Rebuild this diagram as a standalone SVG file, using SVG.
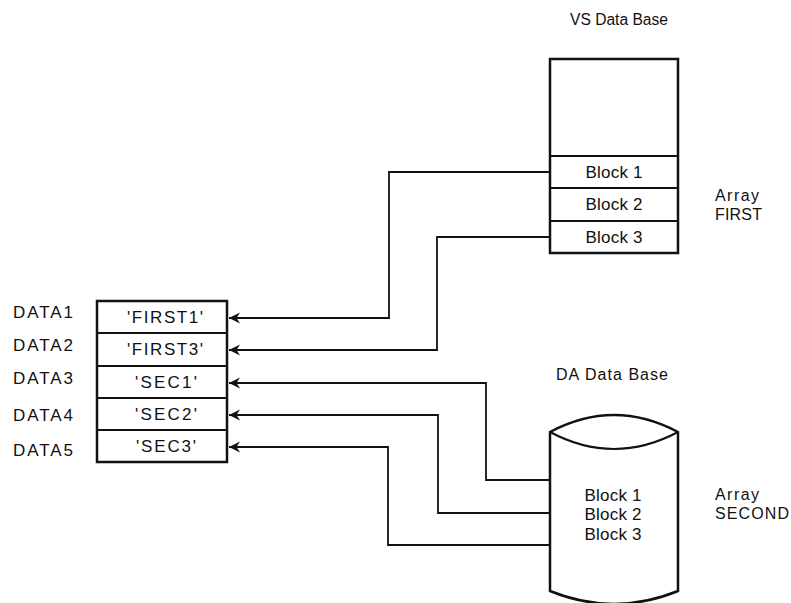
<svg xmlns="http://www.w3.org/2000/svg" width="791" height="603" viewBox="0 0 791 603">
<style>
  text { font-family: "Liberation Sans", Arial, sans-serif; font-size: 17px; fill: #111; }
  .hdr { font-size: 16px; }
  .lbl { font-size: 16px; }
  .mid { text-anchor: middle; }
  .box { fill: #fff; stroke: #111; stroke-width: 2.5; }
  .div { stroke: #111; stroke-width: 2; fill: none; }
  .conn { fill: none; stroke: #111; stroke-width: 1.8; }
</style>
<defs>
  <marker id="arr" viewBox="-12 -7 13 14" markerWidth="13" markerHeight="14" refX="0" refY="0" orient="auto" markerUnits="userSpaceOnUse">
    <path d="M0,0 L-11,-5.5 L-7.5,0 L-11,5.5 Z" fill="#111"/>
  </marker>
</defs>
<rect width="791" height="603" fill="#fff"/>

<g id="vs-label"><text class="hdr" x="570" y="25" textLength="98" lengthAdjust="spacingAndGlyphs">VS Data Base</text></g>

<g id="vs-database">
  <rect class="box" x="550" y="59" width="128" height="194"/>
  <line class="div" x1="550" y1="156" x2="678" y2="156"/>
  <line class="div" x1="550" y1="188" x2="678" y2="188"/>
  <line class="div" x1="550" y1="221" x2="678" y2="221"/>
  <text class="mid" x="614" y="178" textLength="57" lengthAdjust="spacing">Block 1</text>
  <text class="mid" x="614" y="210" textLength="57" lengthAdjust="spacing">Block 2</text>
  <text class="mid" x="614" y="243" textLength="57" lengthAdjust="spacing">Block 3</text>
</g>

<g id="array-first">
  <text class="lbl" x="715" y="201" textLength="44" lengthAdjust="spacing">Array</text>
  <text class="lbl" x="715" y="220" textLength="47" lengthAdjust="spacing">FIRST</text>
</g>

<g id="da-label"><text class="hdr" x="556" y="380" textLength="112" lengthAdjust="spacing">DA Data Base</text></g>

<g id="da-database">
  <path class="box" d="M550,432 Q614,398 678,432 L678,591 Q614,617 550,591 Z"/>
  <path class="div" d="M550,432 Q614,466 678,432"/>
  <text class="mid" x="613" y="501" textLength="57" lengthAdjust="spacing">Block 1</text>
  <text class="mid" x="613" y="520" textLength="57" lengthAdjust="spacing">Block 2</text>
  <text class="mid" x="613" y="540" textLength="57" lengthAdjust="spacing">Block 3</text>
</g>

<g id="array-second">
  <text class="lbl" x="715" y="500" textLength="44" lengthAdjust="spacing">Array</text>
  <text class="lbl" x="715" y="519" textLength="74" lengthAdjust="spacing">SECOND</text>
</g>

<g id="data-array">
  <rect class="box" x="97" y="301" width="130" height="161"/>
  <line class="div" x1="97" y1="333" x2="227" y2="333"/>
  <line class="div" x1="97" y1="366" x2="227" y2="366"/>
  <line class="div" x1="97" y1="398" x2="227" y2="398"/>
  <line class="div" x1="97" y1="430" x2="227" y2="430"/>
  <text class="mid" x="165" y="323" textLength="76" lengthAdjust="spacing">'FIRST1'</text>
  <text class="mid" x="165" y="355" textLength="76" lengthAdjust="spacing">'FIRST3'</text>
  <text class="mid" x="166" y="388" textLength="62" lengthAdjust="spacing">'SEC1'</text>
  <text class="mid" x="166" y="420" textLength="62" lengthAdjust="spacing">'SEC2'</text>
  <text class="mid" x="166" y="452" textLength="60" lengthAdjust="spacing">'SEC3'</text>
</g>

<g id="data-labels">
  <text x="13" y="318" textLength="60" lengthAdjust="spacing">DATA1</text>
  <text x="13" y="351" textLength="60" lengthAdjust="spacing">DATA2</text>
  <text x="13" y="384" textLength="60" lengthAdjust="spacing">DATA3</text>
  <text x="13" y="421" textLength="60" lengthAdjust="spacing">DATA4</text>
  <text x="13" y="456" textLength="60" lengthAdjust="spacing">DATA5</text>
</g>

<g id="connectors">
  <path class="conn" d="M549,172 H389 V318 H229" marker-end="url(#arr)"/>
  <path class="conn" d="M549,237 H437 V350 H229" marker-end="url(#arr)"/>
  <path class="conn" d="M550,480 H486 V383 H229" marker-end="url(#arr)"/>
  <path class="conn" d="M550,513 H438 V415 H229" marker-end="url(#arr)"/>
  <path class="conn" d="M550,545 H388 V447 H229" marker-end="url(#arr)"/>
</g>
</svg>
